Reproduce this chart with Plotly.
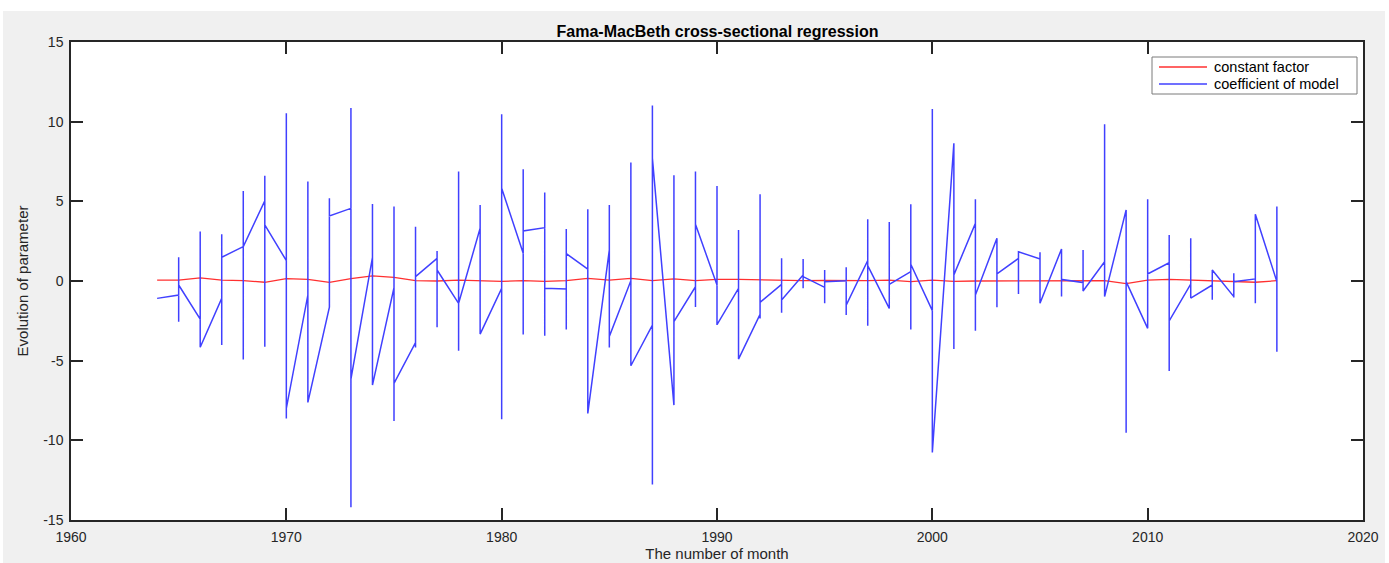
import plotly.graph_objects as go

years = list(range(1964, 2017))

# coefficient of model: per year first, high, low, last value
coef_first = [-1.09, -0.88, -2.39, -1.09, 2.16, 5.03, 1.28, -0.88, -1.65, 4.56,
              1.49, -0.42, -3.87, 1.42, -1.40, 3.31, -0.46, 1.74, 3.35, -0.50,
              0.75, 1.95, 0.02, -2.76, -7.79, -0.36, -0.25, -0.46, -2.09, -0.21,
              0.38, -0.40, 0.02, 1.28, -1.72, 0.59, -1.86, 8.65, 3.62, 2.68,
              1.42, 1.38, 2.01, -0.10, 1.21, 4.46, -2.97, 1.15, -0.19, -0.25,
              -0.98, 0.13, -0.04]
coef_high = [-1.09, 1.49, 3.10, 2.93, 5.65, 6.60, 10.53, 6.24, 5.19, 10.85,
             4.84, 4.67, 3.41, 1.88, 6.87, 4.77, 10.47, 7.01, 5.55, 3.27,
             4.50, 4.77, 7.43, 11.01, 6.64, 6.87, 5.97, 3.20, 5.45, 1.42,
             1.38, 0.69, 0.86, 3.87, 3.71, 4.82, 10.80, 8.65, 5.13, 2.68,
             1.88, 1.80, 2.01, 1.95, 9.84, 4.46, 5.13, 2.89, 2.68, 0.69,
             0.48, 4.19, 4.67]
coef_low = [-1.09, -2.55, -4.16, -4.02, -4.92, -4.12, -8.63, -7.62, -1.65, -14.2,
            -6.53, -8.79, -4.17, -2.91, -4.38, -3.33, -8.67, -3.35, -3.43, -3.04,
            -8.31, -4.17, -5.32, -12.77, -7.79, -1.63, -2.76, -4.90, -2.35, -1.99,
            -0.46, -1.40, -2.14, -2.81, -1.72, -3.04, -10.76, -4.27, -3.12, -1.65,
            -0.82, -1.40, -0.98, -0.63, -0.98, -9.53, -2.97, -5.65, -1.09, -1.17,
            -1.03, -1.40, -4.44]
coef_last = [-1.09, -0.25, -4.16, 1.49, 2.16, 3.52, -8.00, -7.62, 4.08, -6.16,
             -6.53, -6.43, 0.27, 0.69, -1.40, -3.33, 5.82, 3.14, -0.46, 1.72,
             -8.31, -3.48, -5.32, 7.71, -2.55, 3.56, -2.74, -4.90, -1.34, -1.19,
             0.27, -0.04, -1.51, 0.96, -0.21, 1.05, -10.76, 0.38, -0.88, 0.44,
             1.84, -1.40, 0.10, -0.63, -0.98, -0.04, 0.44, -2.51, -1.07, 0.69,
             -0.04, 4.19, -0.04]

# constant factor, per year
const_factor = [0.06, 0.06, 0.20, 0.06, 0.02, -0.08, 0.15, 0.10, -0.08, 0.15,
                0.32, 0.23, 0.02, 0.00, 0.06, 0.02, -0.02, 0.02, -0.02, 0.02,
                0.17, 0.06, 0.17, 0.02, 0.13, 0.02, 0.10, 0.10, 0.06, 0.04,
                0.02, 0.04, 0.02, 0.02, 0.06, -0.04, 0.06, -0.02, 0.00, 0.00,
                0.00, 0.02, 0.04, 0.02, 0.02, -0.17, 0.06, 0.10, 0.06, 0.02,
                0.00, -0.08, 0.02]

series_names = ["constant factor", "coefficient of model"]
series_colors = ["#ff3030", "#4040ff"]

xticks = [1960, 1970, 1980, 1990, 2000, 2010, 2020]
yticks = [-15, -10, -5, 0, 5, 10, 15]

bx, by = [], []
for i, yr in enumerate(years):
    for v in (coef_first[i], coef_high[i], coef_low[i], coef_last[i]):
        bx.append(yr)
        by.append(v)

FONT = "Liberation Sans, Arial, sans-serif"

fig = go.Figure()
fig.add_trace(go.Scatter(x=years, y=const_factor, mode="lines",
                         line=dict(color=series_colors[0], width=1.3),
                         name=series_names[0], showlegend=False))
fig.add_trace(go.Scatter(x=bx, y=by, mode="lines",
                         line=dict(color=series_colors[1], width=1.5),
                         name=series_names[1], showlegend=False))

axis_common = dict(showline=True, linecolor="#262626", linewidth=1.5,
                   mirror="allticks", ticks="inside", ticklen=12,
                   tickcolor="#262626", tickwidth=1.5, showgrid=False,
                   zeroline=False, automargin=False,
                   tickfont=dict(family=FONT, size=14, color="#262626"))

# plot area in pixels: x 71..1363, y 42..520
L, R, T, B = 71, 1363, 42, 520
W, H = R - L, B - T
def px(x):
    return (x - L) / W
def py(y):
    return 1 - (y - T) / H

shapes = [
    dict(type="rect", xref="paper", yref="paper", x0=-0.1, x1=1.1,
         y0=py(11), y1=py(-2), fillcolor="#ffffff", line=dict(width=0), layer="below"),
    dict(type="rect", xref="paper", yref="paper", x0=px(-2), x1=px(3),
         y0=py(565), y1=py(-2), fillcolor="#ffffff", line=dict(width=0), layer="below"),
    dict(type="rect", xref="paper", yref="paper", x0=px(1385), x1=px(1392),
         y0=py(565), y1=py(-2), fillcolor="#ffffff", line=dict(width=0), layer="below"),
    # legend box
    dict(type="rect", xref="paper", yref="paper", x0=px(1152), x1=px(1357),
         y0=py(94), y1=py(57), fillcolor="#ffffff",
         line=dict(color="#7a7a7a", width=1), layer="above"),
]
annotations = []
for k, (nm, col) in enumerate(zip(series_names, series_colors)):
    yy = 67 + k * 17
    shapes.append(dict(type="line", xref="paper", yref="paper",
                       x0=px(1159), x1=px(1207), y0=py(yy), y1=py(yy),
                       line=dict(color=col, width=1.3), layer="above"))
    annotations.append(dict(text=nm, xref="paper", yref="paper",
                            x=px(1212), y=py(yy), xanchor="left", yanchor="middle",
                            showarrow=False,
                            font=dict(family=FONT, size=14.5, color="#000000")))

fig.update_layout(
    width=1389, height=563,
    paper_bgcolor="#f0f0f0", plot_bgcolor="#ffffff",
    margin=dict(l=L, r=1389 - R, t=T, b=563 - B),
    title=dict(text="<b>Fama-MacBeth cross-sectional regression</b>",
               x=(537 + 898) / 2 / 1389, xanchor="center",
               y=1 - 31 / 563, yanchor="middle", yref="container",
               font=dict(family=FONT, size=16, color="#000000")),
    xaxis=dict(range=[1960, 2020], tickvals=xticks, ticktext=[str(t) for t in xticks],
               ticklabelstandoff=3,
               title=dict(text="The number of month", standoff=5,
                          font=dict(family=FONT, size=15, color="#262626")),
               **axis_common),
    yaxis=dict(range=[-15, 15], tickvals=yticks, ticktext=[str(t) for t in yticks],
               ticklabelstandoff=3,
               title=dict(text="Evolution of parameter", standoff=11,
                          font=dict(family=FONT, size=15, color="#262626")),
               **axis_common),
    showlegend=False,
    shapes=shapes,
    annotations=annotations,
)

fig.write_html("out.html")
